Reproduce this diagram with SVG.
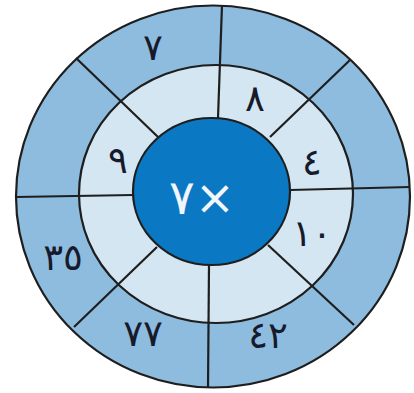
<svg xmlns="http://www.w3.org/2000/svg" width="414" height="393" viewBox="0 0 414 393">
<style>
.ring{stroke:#1e1e1e;stroke-width:2.2}
.ln{stroke:#1e1e1e;stroke-width:2.2;fill:none}
.t{font-family:"DejaVu Sans","Noto Sans",sans-serif;font-size:37px;fill:#161a2c;text-anchor:middle;direction:ltr}
.c{font-family:"DejaVu Sans","Noto Sans",sans-serif;font-size:48px;fill:#f2f6fa;text-anchor:middle;direction:ltr}
</style>
<rect width="414" height="393" fill="#ffffff"/>
<g id="outer-ring"><ellipse class="ring" cx="213" cy="196.5" rx="197" ry="191" fill="#8dbcdf"/></g>
<g id="middle-ring"><ellipse class="ring" cx="216" cy="194" rx="137" ry="129" fill="#d4e6f2"/></g>
<g id="center"><ellipse class="ring" cx="211.5" cy="191.5" rx="78.5" ry="73.5" fill="#0b78c3"/>
<text class="c" x="202" y="214">٧×</text></g>
<g id="connectors">
<line class="ln" x1="222" y1="5" x2="218" y2="118"/>
<line class="ln" x1="209" y1="265" x2="208" y2="388"/>
<line class="ln" x1="16" y1="197" x2="133" y2="195"/>
<line class="ln" x1="290" y1="190" x2="410" y2="187"/>
<line class="ln" x1="76" y1="58" x2="158" y2="137"/>
<line class="ln" x1="350" y1="60" x2="270" y2="137"/>
<line class="ln" x1="268" y1="245" x2="354" y2="325"/>
<line class="ln" x1="157" y1="247" x2="74" y2="327"/>
</g>
<g id="n7"><text class="t" x="153" y="60">٧</text></g>
<g id="n8"><text class="t" x="255" y="111">٨</text></g>
<g id="n4"><text class="t" x="312" y="175">٤</text></g>
<g id="n9"><text class="t" x="118" y="173">٩</text></g>
<g id="n10"><text class="t" x="312" y="246">١٠</text></g>
<g id="n35"><text class="t" x="63" y="270">٣٥</text></g>
<g id="n77"><text class="t" x="143" y="346">٧٧</text></g>
<g id="n42"><text class="t" x="268" y="348">٤٢</text></g>
</svg>
